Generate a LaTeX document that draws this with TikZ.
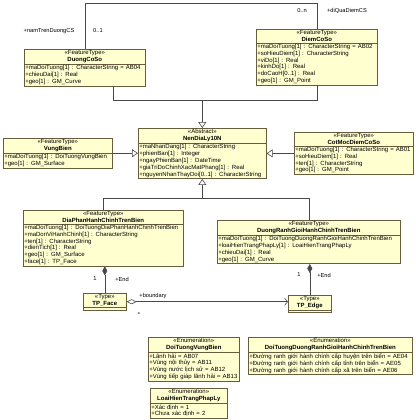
\documentclass[tikz,border=0pt]{standalone}
\usepackage{fontspec}
\setmainfont{Liberation Sans}
\usetikzlibrary{shapes.multipart, arrows.meta, positioning}
\definecolor{umlfill}{RGB}{255,255,208}
\definecolor{umlline}{RGB}{104,92,60}
\definecolor{linkgray}{RGB}{72,72,72}
\newcommand{\umlhead}[2]{\makebox[\linewidth]{«#1»}\\\makebox[\linewidth]{\textbf{#2}}}

\begin{document}
\begin{tikzpicture}[x=1pt, y=-1pt,
    umlclass/.style={rectangle split, rectangle split parts=2, draw=umlline, fill=umlfill,
        line width=0.6pt, inner xsep=1pt, inner ysep=1pt, align=left, anchor=north west,
        font=\fontsize{6}{6.8}\selectfont, rectangle split empty part height=5pt},
    link/.style={draw=linkgray, line width=0.6pt},
    gen/.style={link, -{Triangle[open, length=6pt, width=8pt, fill=white]}},
    comp/.style={link, {Diamond[length=9pt, width=5pt]}-},
    aggr/.style={link, {Diamond[open, length=10pt, width=5pt, fill=white]}-{Straight Barb[length=3pt, width=7pt]}},
    lbl/.style={font=\fontsize{5.7}{6}\selectfont, inner sep=0pt}]
    \useasboundingbox (0,0) rectangle (415,420);

    % Point and line features
    \node[umlclass, text width=119pt] (dcs) at (24,49) {\umlhead{FeatureType}{DuongCoSo}
        \nodepart{two}+maDoiTuong[1] : CharacterString = AB04\\
        +chieuDai[1] : Real\\
        +geo[1] : GM\_Curve};
    \node[umlclass, text width=119pt] (dmcs) at (256,29) {\umlhead{FeatureType}{DiemCoSo}
        \nodepart{two}+maDoiTuong[1] : CharacterString = AB02\\
        +soHieuDiem[1] : CharacterString\\
        +viDo[1] : Real\\
        +kinhDo[1] : Real\\
        +doCaoH[0..1] : Real\\
        +geo[1] : GM\_Point};

    % Abstract base
    \node[umlclass, text width=126pt] (nen) at (138,128) {\umlhead{Abstract}{NenDiaLy10N}
        \nodepart{two}+maNhanDang[1] : CharacterString\\
        +phienBan[1] : Integer\\
        +ngayPhienBan[1] : DateTime\\
        +giaTriDoChinhXacMatPhang[1] : Real\\
        +nguyenNhanThayDoi[0..1] : CharacterString};
    \node[umlclass, text width=107pt] (vb) at (3,138) {\umlhead{FeatureType}{VungBien}
        \nodepart{two}+maDoiTuong[1] : DoiTuongVungBien\\
        +geo[1] : GM\_Surface};
    \node[umlclass, text width=117pt] (cm) at (294,132) {\umlhead{FeatureType}{CotMocDiemCoSo}
        \nodepart{two}+maDoiTuong[1] : CharacterString = AB01\\
        +soHieuDiem[1] : Real\\
        +ten[1] : CharacterString\\
        +geo[1] : GM\_Point};

    % Sea boundaries
    \node[umlclass, text width=158pt] (dp) at (23,210) {\umlhead{FeatureType}{DiaPhanHanhChinhTrenBien}
        \nodepart{two}+maDoiTuong[1] : DoiTuongDiaPhanHanhChinhTrenBien\\
        +maDonViHanhChinh[1] : CharacterString\\
        +ten[1] : CharacterString\\
        +dienTich[1] : Real\\
        +geo[1] : GM\_Surface\\
        +face[1] : TP\_Face};
    \node[umlclass, text width=181pt] (drg) at (217,220) {\umlhead{FeatureType}{DuongRanhGioiHanhChinhTrenBien}
        \nodepart{two}+maDoiTuong[1] : DoiTuongDuongRanhGioiHanhChinhTrenBien\\
        +loaiHienTrangPhapLy[1] : LoaiHienTrangPhapLy\\
        +chieuDai[1] : Real\\
        +geo[1] : GM\_Curve};

    % Topology
    \node[umlclass, text width=41pt] (tpf) at (83,293) {\umlhead{Type}{TP\_Face} \nodepart{two}};
    \node[umlclass, text width=41pt] (tpe) at (288,295) {\umlhead{Type}{TP\_Edge} \nodepart{two}};

    % Enumerations
    \node[umlclass, text width=89pt] (evb) at (148,337) {\umlhead{Enumeration}{DoiTuongVungBien}
        \nodepart{two}+Lãnh hải = AB07\\
        +Vùng nội thủy = AB11\\
        +Vùng nước lịch sử = AB12\\
        +Vùng tiếp giáp lãnh hải = AB13};
    \node[umlclass, text width=75pt] (eht) at (150,388) {\umlhead{Enumeration}{LoaiHienTrangPhapLy}
        \nodepart{two}+Xác định = 1\\
        +Chưa xác định = 2};
    \node[umlclass, text width=162pt] (edr) at (248,337) {\umlhead{Enumeration}{DoiTuongDuongRanhGioiHanhChinhTrenBien}
        \nodepart{two}+Đường ranh giới hành chính cấp huyện trên biển = AE04\\
        +Đường ranh giới hành chính cấp tỉnh trên biển = AE05\\
        +Đường ranh giới hành chính cấp xã trên biển = AE06};

    % Association on top
    \coordinate (topbend) at (0,3);
    \draw[link] (dcs.north) |- (topbend -| dmcs.north) -- (dmcs.north);
    \node[lbl] (lnam) at (49,31) {+namTrenDuongCS};
    \node[lbl] (lmulA) at (98,31) {0..1};
    \node[lbl] (lmulB) at (302,11) {0..n};
    \node[lbl] (ldiqua) at (347,11) {+diQuaDiemCS};

    % Generalizations
    \coordinate (busA) at (0,100);
    \draw[link] ([xshift=28pt]dcs.south) |- (busA -| dmcs.south) -- (dmcs.south);
    \draw[gen] (busA -| nen.north) -- (nen.north);
    \draw[gen] (vb.east) -- (vb.east -| nen.west);
    \draw[gen] (cm.west) -- (cm.west -| nen.east);
    \coordinate (busB) at (0,198);
    \draw[link] (dp.north) |- (busB -| drg.north) -- (drg.north);
    \draw[gen] (busB -| nen.south) -- (nen.south);

    % Compositions and aggregation
    \draw[comp] (tpf.north |- dp.south) -- (tpf.north);
    \node[lbl] (lone1) at (95,279) {1};
    \node[lbl] (lend1) at (122,279) {+End};
    \draw[comp] (tpe.north |- drg.south) -- (tpe.north);
    \node[lbl] (lone2) at (299,275) {1};
    \node[lbl] (lend2) at (324,275) {+End};
    \draw[aggr] (tpf.east) -- (tpf.east -| tpe.west);
    \node[lbl] (lbound) at (153,296) {+boundary};
    \node[lbl] (lstar) at (139,315) {*};
\end{tikzpicture}
\end{document}
